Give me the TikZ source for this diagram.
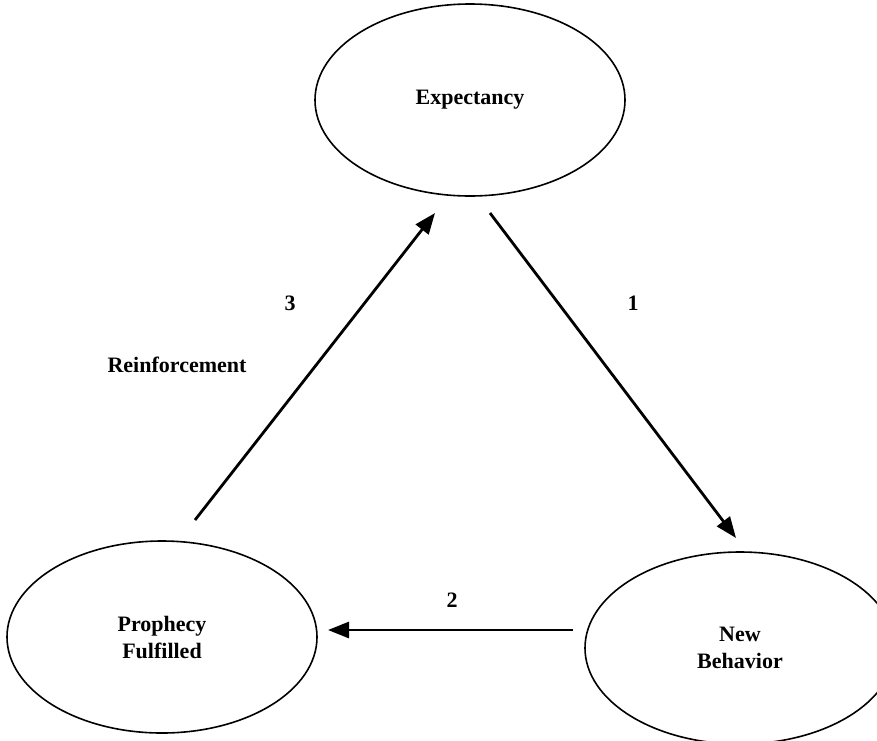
\documentclass[tikz,border=0pt]{standalone}
\usepackage{fontspec}
\setmainfont{Liberation Serif}
\usetikzlibrary{shapes.geometric,arrows.meta}
\begin{document}
\begin{tikzpicture}[x=1pt,y=-1pt,
  oval/.style={draw,ellipse,line width=1.6pt,minimum width=310pt,minimum height=192pt,inner sep=0pt,
    font=\fontsize{22}{27}\selectfont\bfseries,align=center},
  lbl/.style={font=\fontsize{22}{27}\selectfont\bfseries,inner sep=0pt},
  arr/.style={line width=2.8pt,-{Triangle[length=21pt,width=16pt]}}]
\useasboundingbox (0,0) rectangle (877,740);
\clip (0,0) rectangle (877,740);
\node[oval] (exp) at (470,100) {Expectancy};
\node[oval] (pro) at (162,637) {Prophecy\\Fulfilled};
\node[oval] (nb) at (740,648) {New\\Behavior};
\coordinate (a1s) at (490,213);
\coordinate (a1e) at (736,538);
\coordinate (a2s) at (573,630);
\coordinate (a2e) at (328,630);
\coordinate (a3s) at (195,520);
\coordinate (a3e) at (435,213);
\draw[arr] (a1s) -- (a1e);
\draw[arr] (a2s) -- (a2e);
\draw[arr] (a3s) -- (a3e);
\node[lbl] (l1) at (633,303) {1};
\node[lbl] (l2) at (452,600) {2};
\node[lbl] (l3) at (290,303) {3};
\node[lbl] (lr) at (177,365) {Reinforcement};
\end{tikzpicture}
\end{document}
